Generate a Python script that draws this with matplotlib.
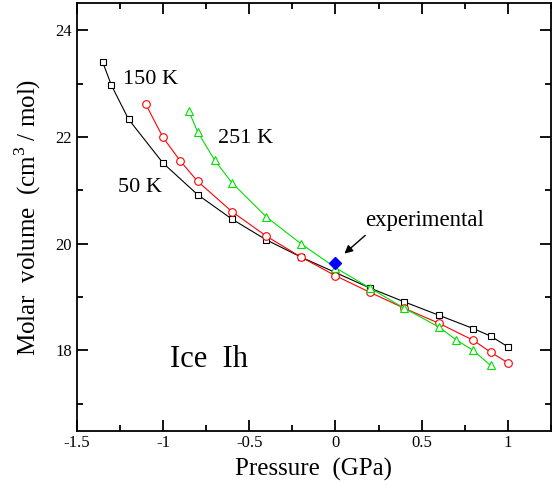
import numpy as np
import matplotlib
matplotlib.use("Agg")
import matplotlib.pyplot as plt
from matplotlib.ticker import MultipleLocator

plt.rcParams["font.family"] = ["Liberation Serif", "DejaVu Serif"]
plt.rcParams["mathtext.fontset"] = "custom"
plt.rcParams["mathtext.rm"] = "Liberation Serif"

# 50 K isotherm
p_50 = [-1.35, -1.30, -1.20, -1.00, -0.80, -0.60, -0.40, -0.20, 0.0, 0.20, 0.40, 0.60, 0.80, 0.90, 1.00]
v_50 = [23.40, 22.97, 22.33, 21.51, 20.92, 20.46, 20.07, 19.75, 19.46, 19.17, 18.91, 18.66, 18.41, 18.27, 18.07]

# 150 K isotherm
p_150 = [-1.10, -1.00, -0.90, -0.80, -0.60, -0.40, -0.20, 0.0, 0.20, 0.40, 0.60, 0.80, 0.90, 1.00]
v_150 = [22.61, 21.99, 21.55, 21.17, 20.60, 20.14, 19.75, 19.40, 19.09, 18.79, 18.51, 18.19, 17.97, 17.77]

# 251 K isotherm
p_251 = [-0.85, -0.80, -0.70, -0.60, -0.40, -0.20, 0.0, 0.20, 0.40, 0.60, 0.70, 0.80, 0.90]
v_251 = [22.48, 22.10, 21.56, 21.14, 20.50, 20.00, 19.55, 19.17, 18.79, 18.44, 18.20, 18.00, 17.72]

# experimental point
p_exp = [0.0]
v_exp = [19.63]

fig = plt.figure(figsize=(5.57, 4.96), dpi=100)
ax = fig.add_axes([0.138, 0.132, 0.851, 0.861])

ax.plot(p_50, v_50, color="black", lw=0.8, marker="s", ms=5, mfc="white", mec="black", mew=0.8)
ax.plot(p_150, v_150, color="red", lw=0.8, marker="o", ms=5.5, mfc="white", mec="red", mew=0.8)
ax.plot(p_251, v_251, color="#00e000", lw=0.8, marker="^", ms=5.5, mfc="white", mec="#00e000", mew=0.8)
ax.plot(p_exp, v_exp, linestyle="none", marker="D", ms=6, color="blue")

ax.text(-1.234, 23.08, "150 K", fontsize=16, va="center")
ax.text(-0.68, 21.97, "251 K", fontsize=16, va="center")
ax.text(-1.263, 21.05, "50 K", fontsize=16, va="center")
ax.text(0.17, 20.33, "experimental", fontsize=16.4, va="baseline")
ax.text(-0.962, 17.83, "Ice  Ih", fontsize=22, va="center")
ax.annotate("", xy=(0.04, 19.78), xytext=(0.185, 20.19),
            arrowprops=dict(arrowstyle="-|>", color="black", lw=1.0, mutation_scale=12))

ax.set_xlim(-1.5, 1.25)
ax.set_ylim(16.5, 24.5)
ax.xaxis.set_major_locator(MultipleLocator(0.5))
ax.xaxis.set_minor_locator(MultipleLocator(0.25))
ax.yaxis.set_major_locator(MultipleLocator(2))
ax.yaxis.set_minor_locator(MultipleLocator(1))
ax.tick_params(which="both", direction="in", top=True, right=True, width=1.3, labelsize=12)
ax.tick_params(which="major", length=8)
ax.tick_params(which="minor", length=4.5)
for s in ax.spines.values():
    s.set_linewidth(1.3)

ax.set_xticks([-1.5, -1, -0.5, 0, 0.5, 1])
ax.set_xticklabels(["-1.5", "-1", "-0.5", "0", "0.5", "1"])
ax.set_yticks([18, 20, 22, 24])

ax.set_xlabel("Pressure  (GPa)", fontsize=18, labelpad=5)
ax.set_ylabel("Molar  volume  (cm$^3$ / mol)", fontsize=18, labelpad=9)

fig.savefig("out.png", dpi=100)
